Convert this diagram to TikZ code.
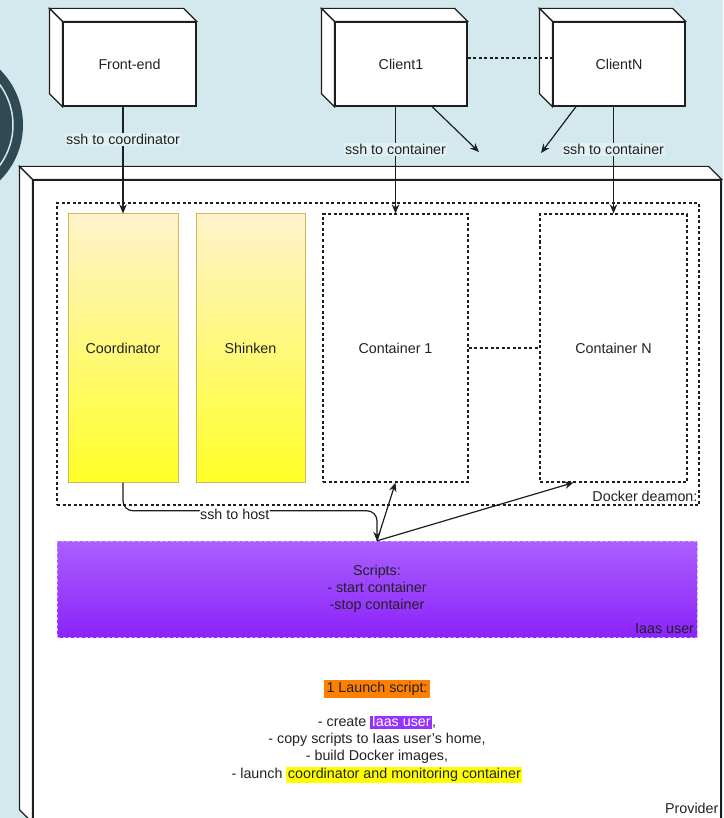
\documentclass[tikz,border=0pt]{standalone}
\usepackage{fontspec}
\setmainfont{Liberation Sans}
\usepackage{xcolor}
\usetikzlibrary{arrows.meta, positioning}

\definecolor{pagebg}{RGB}{212,233,238}
\definecolor{labelbg}{RGB}{226,240,243}
\definecolor{ringcol}{RGB}{47,74,82}
\definecolor{linecol}{RGB}{30,30,30}
\definecolor{txtcol}{RGB}{34,34,34}
\definecolor{yellowtop}{RGB}{255,242,204}
\definecolor{yellowbot}{RGB}{255,255,40}
\definecolor{yellowedge}{RGB}{214,182,86}
\definecolor{purpletop}{RGB}{170,95,255}
\definecolor{purplebot}{RGB}{140,35,250}
\definecolor{purpleedge}{RGB}{205,165,255}
\definecolor{hlpurple}{RGB}{150,50,255}
\definecolor{hlorange}{RGB}{255,128,0}
\definecolor{hlyellow}{RGB}{255,255,0}

% top and left faces of a 3d box: node name, depth
\newcommand{\boxfaces}[2]{%
  \draw[linecol, line width=1.2pt, fill=white] (#1.north west) -- ++(-#2,-#2)
    -- ([shift={(-#2,-#2)}]#1.north east) -- (#1.north east) -- cycle;
  \draw[linecol, line width=1.2pt, fill=white] (#1.north west) -- ++(-#2,-#2)
    -- ([shift={(-#2,-#2)}]#1.south west) -- (#1.south west) -- cycle;
}
\newcommand{\markbg}[2]{{\setlength{\fboxsep}{1.5pt}\colorbox{#1}{#2}}}

\begin{document}
\begin{tikzpicture}[
    x=1pt, y=-1pt,
    every node/.style={font=\fontsize{14.3}{17}\selectfont, text=txtcol},
    box3d/.style={draw=linecol, line width=1.2pt, fill=white, minimum width=132pt, minimum height=84pt},
    dock/.style={draw=linecol, line width=1.2pt, dash pattern=on 3pt off 2.5pt},
    contbox/.style={dock, minimum width=146pt, minimum height=268pt},
    yellowbox/.style={draw=yellowedge, line width=1pt, top color=yellowtop, bottom color=yellowbot, minimum width=110pt, minimum height=268pt},
    arrow1/.style={-{Stealth[length=9pt, width=7.5pt]}, line width=1.2pt, draw=linecol},
    lbl/.style={fill=labelbg, inner sep=1.5pt},
]
    % page
    \useasboundingbox (0,0) rectangle (723,818);
    \fill[pagebg] (0,0) rectangle (723,818);
    \fill[ringcol] (-55,125) circle (78pt);
    \draw[pagebg, line width=1.5pt] (-55,125) circle (68pt);

    % Provider host
    \node[box3d, minimum width=688pt, minimum height=642pt] (prov) at (377,501) {};
    \boxfaces{prov}{13}
    \node[anchor=south east, inner sep=1pt, xshift=-2pt, yshift=8pt] (provlbl) at (prov.south east) {Provider};

    % Clients
    \node[box3d, minimum width=133pt] (fe) at (129.5,64) {Front-end};
    \boxfaces{fe}{13}
    \node[box3d] (cl1) at (401,64) {Client1};
    \boxfaces{cl1}{13}
    \node[box3d] (clN) at (619,64) {ClientN};
    \boxfaces{clN}{13}
    \draw[dock] ([yshift=6pt]cl1.east) -- ([yshift=6pt]clN.west);

    % Docker
    \node[dock, minimum width=642pt, minimum height=302pt] (docker) at (378,354) {};
    \node[anchor=south east, inner sep=1pt, xshift=-1pt, yshift=3pt] (dockerlbl) at (docker.south east) {Docker deamon:};
    \node[yellowbox] (coord) at (123,348) {Coordinator};
    \node[yellowbox, minimum width=109pt] (shinken) at (250.5,348) {Shinken};
    \node[contbox, minimum width=145pt] (c1) at (395.5,348) {Container 1};
    \node[contbox, minimum width=147pt] (cN) at (613.5,348) {Container N};
    \draw[dock] (c1.east) -- (cN.west);

    % Iaas user
    \node[draw=purpleedge, dash pattern=on 3pt off 2.5pt, top color=purpletop, bottom color=purplebot,
          minimum width=640pt, minimum height=96pt, align=center] (scripts) at (377,589)
          {Scripts:\\- start container\\-stop container};
    \node[anchor=south east, inner sep=1pt, xshift=-2pt, yshift=2pt] (iaaslbl) at (scripts.south east) {Iaas user};

    % Launch script
    \node[fill=hlorange, inner sep=2.5pt] (launch) at (377,689) {1 Launch script:};
    \node[align=center, below=17pt of launch, inner sep=0pt] (steps)
          {- create \markbg{hlpurple}{\textcolor{white}{Iaas user}},\\
           - copy scripts to Iaas user's home,\\
           - build Docker images,\\[1pt]
           - launch \markbg{hlyellow}{coordinator and monitoring container}};

    % Arrows
    \draw[arrow1] (coord.north |- fe.south) -- (coord.north) node[lbl, pos=0.31] {ssh to coordinator};
    \draw[arrow1] (c1.north |- cl1.south) -- (c1.north) node[lbl, pos=0.4] {ssh to container};
    \draw[arrow1] (cN.north |- clN.south) -- (cN.north) node[lbl, pos=0.4] {ssh to container};
    \coordinate (cl1end) at (479,152);
    \coordinate (clNend) at (541,153);
    \draw[arrow1] ([xshift=31pt]cl1.south) -- (cl1end);
    \draw[arrow1] ([xshift=-43pt]clN.south) -- (clNend);
    \draw[arrow1, rounded corners=10pt] (coord.south)
          |- node[pos=0.72, fill=white, inner xsep=2pt, inner ysep=3.5pt, yshift=-4pt] {ssh to host} ([yshift=30pt]scripts.north)
          -- (scripts.north);
    \draw[arrow1] (scripts.north) -- (c1.south);
    \draw[arrow1] (scripts.north) -- ([xshift=-40pt]cN.south);

\end{tikzpicture}
\end{document}
